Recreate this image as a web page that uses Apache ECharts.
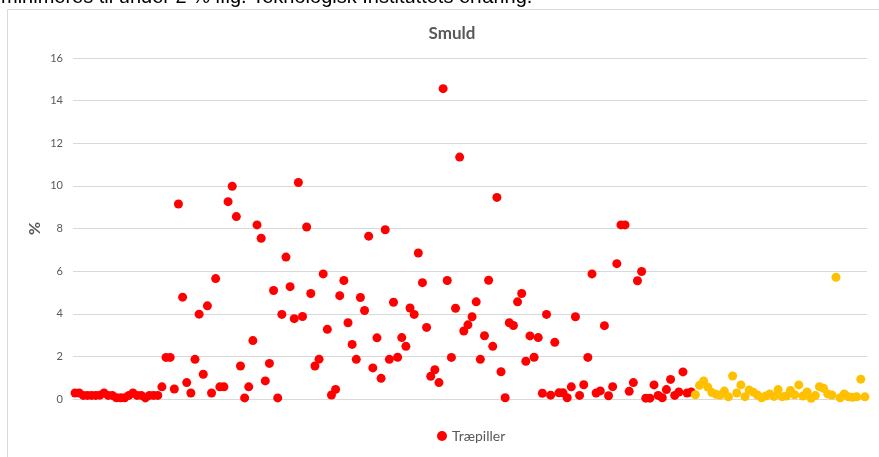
<!DOCTYPE html>
<html>
<head>
<meta charset="utf-8">
<script src="https://cdn.jsdelivr.net/npm/echarts@6/dist/echarts.min.js"></script>
<style>
  html, body { margin: 0; padding: 0; background: #ffffff; }
  #chart { width: 879px; height: 457px; }
</style>
</head>
<body>
<div id="chart"></div>
<script>
// Smuld (fines) in wood pellet samples, percent per sample
const chartTitle = 'Smuld';
const yAxisName = '%';
const introLine = 'minimeres til under 2 % iflg. Teknologisk Instituttets erfaring.';

const mainSeriesName = 'Træpiller';
const laterSeriesName = 'Træpiller (senere prøver)';

const yMin = 0;
const yMax = 16;
const yStep = 2;

// First group of samples (red)
const traepiller = [
  0.28, 0.28, 0.17, 0.17, 0.17, 0.17, 0.18, 0.28, 0.17, 0.17,
  0.06, 0.06, 0.06, 0.17, 0.28, 0.17, 0.17, 0.05, 0.17, 0.17,
  0.17,
  0.57, 1.95, 1.95, 0.47, 9.15, 4.78, 0.77, 0.28, 1.86, 3.98,
  1.16, 4.37, 0.28, 5.65, 0.57, 0.57, 9.26, 9.98, 8.56, 1.55,
  0.05, 0.57, 2.74, 8.17, 7.54, 0.85, 1.67, 5.09, 0.05, 3.97,
  6.66, 5.27, 3.77, 10.16, 3.87, 8.07, 4.95, 1.55, 1.87, 5.87,
  3.27, 0.19, 0.45, 4.85, 5.56, 3.58, 2.56, 1.86, 4.76, 4.15,
  7.64, 1.46, 2.87, 0.97, 7.94, 1.86, 4.54, 1.96, 2.88, 2.47,
  4.27, 3.97, 6.85, 5.46, 3.36, 1.07, 1.37, 0.77, 14.56, 5.56,
  1.95, 4.26, 11.35, 3.19, 3.48, 3.86, 4.56, 1.86, 2.97, 5.57,
  2.47, 9.46, 1.28, 0.06, 3.58, 3.45, 4.56, 4.95, 1.77, 2.96,
  1.96, 2.88, 0.27, 3.97, 0.18, 2.66, 0.29, 0.29, 0.06, 0.57,
  3.86, 0.17, 0.67, 1.95, 5.87, 0.28, 0.38, 3.44, 0.15, 0.58,
  6.35, 8.17, 8.17, 0.36, 0.77, 5.55, 5.98, 0.04, 0.04, 0.66,
  0.17, 0.06, 0.44, 0.92, 0.17, 0.33, 1.27, 0.28, 0.33
];

// Later samples (gold)
const traepillerLater = [
  0.20, 0.64, 0.85, 0.56, 0.30, 0.22, 0.19, 0.37, 0.10, 1.08,
  0.28, 0.66, 0.11, 0.42, 0.32, 0.19, 0.06, 0.14, 0.24, 0.12,
  0.44, 0.11, 0.14, 0.40, 0.20, 0.66, 0.14, 0.33, 0.03, 0.16,
  0.58, 0.50, 0.24, 0.19, 5.71, 0.06, 0.24, 0.10, 0.08, 0.10,
  0.93, 0.10
];

const sampleCount = traepiller.length + traepillerLater.length;
const sampleNumbers = [];
for (let i = 1; i <= sampleCount; i++) sampleNumbers.push(String(i));

const mainPoints = traepiller.map((v, i) => [i, v]);
const laterPoints = traepillerLater.map((v, i) => [traepiller.length + i, v]);

const textGrey = '#595959';
const gridGrey = '#d9d9d9';
const fontFamily = 'Lato, "Open Sans", sans-serif';

const chart = echarts.init(document.getElementById('chart'), null, { renderer: 'canvas' });

chart.setOption({
  backgroundColor: '#ffffff',
  animation: false,
  title: {
    text: chartTitle,
    left: 447,
    top: 20,
    textAlign: 'center',
    textStyle: { color: textGrey, fontFamily: fontFamily, fontSize: 17, fontWeight: 'bold' }
  },
  graphic: [
    {
      type: 'text',
      left: 1,
      top: -13,
      style: {
        text: introLine,
        fill: '#000000',
        font: '20px "Liberation Sans", Arial, sans-serif'
      },
      silent: true
    },
    {
      type: 'rect',
      shape: { x: 7.5, y: 9.5, width: 900, height: 500 },
      style: { fill: 'none', stroke: gridGrey, lineWidth: 1 },
      silent: true,
      z: -1
    }
  ],
  legend: {
    data: [mainSeriesName],
    left: 432,
    top: 424,
    icon: 'circle',
    itemWidth: 10,
    itemHeight: 10,
    itemGap: 10,
    textStyle: { color: textGrey, fontFamily: fontFamily, fontSize: 14 }
  },
  grid: {
    left: 73,
    right: 12,
    top: 58,
    bottom: 58,
    containLabel: false
  },
  xAxis: {
    type: 'category',
    data: sampleNumbers,
    boundaryGap: true,
    axisLine: { show: true, lineStyle: { color: gridGrey, width: 1 } },
    axisTick: { show: false },
    axisLabel: { show: false },
    splitLine: { show: false }
  },
  yAxis: {
    type: 'value',
    min: yMin,
    max: yMax,
    interval: yStep,
    name: yAxisName,
    nameLocation: 'middle',
    nameRotate: 90,
    nameGap: 30,
    nameMoveOverlap: false,
    nameTextStyle: { color: textGrey, fontFamily: fontFamily, fontSize: 16, fontWeight: 'bold' },
    axisLine: { show: false },
    axisTick: { show: false },
    axisLabel: { color: textGrey, fontFamily: fontFamily, fontSize: 11, margin: 10 },
    splitLine: { show: true, lineStyle: { color: gridGrey, width: 1 } }
  },
  series: [
    {
      name: mainSeriesName,
      type: 'scatter',
      data: mainPoints,
      symbol: 'circle',
      symbolSize: 9,
      itemStyle: { color: '#ff0000', opacity: 1 }
    },
    {
      name: laterSeriesName,
      type: 'scatter',
      data: laterPoints,
      symbol: 'circle',
      symbolSize: 9,
      itemStyle: { color: '#ffc000', opacity: 1 }
    }
  ]
});
</script>
</body>
</html>
